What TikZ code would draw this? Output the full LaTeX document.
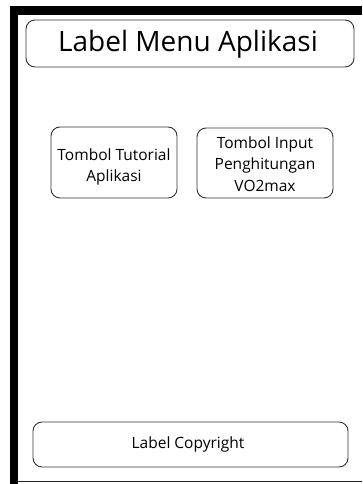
\documentclass[tikz,border=0pt]{standalone}
\usepackage{fontspec}
\setmainfont{Open Sans}
\begin{document}
\begin{tikzpicture}[x=1pt,y=-1pt,
  box/.style={draw=black!80, line width=0.9pt, rounded corners=9pt},
  txt/.style={align=center, inner sep=0pt, font=\fontsize{15.5}{21.5}\selectfont}]
\useasboundingbox (0,0) rectangle (362,484);
% frame
\fill[black] (10,6) rectangle (18,484);
\fill[black] (10,6) rectangle (362,15);
\draw[black!85, line width=1.3pt] (18,481.5) -- (362,481.5);
% boxes
\draw[box] (26,20) rectangle (354,67);
\node[txt, font=\fontsize{28}{30}\selectfont] (title) at (188,44) {Label Menu Aplikasi};
\draw[box] (51,127) rectangle (177,198);
\node[txt] (tut) at (114,167) {Tombol Tutorial\\Aplikasi};
\draw[box] (197,128) rectangle (333,198);
\node[txt] (inp) at (265,164) {Tombol Input\\Penghitungan\\VO2max};
\draw[box] (33,422) rectangle (348,467);
\node[txt] (copy) at (188,444) {Label Copyright};
\end{tikzpicture}
\end{document}
